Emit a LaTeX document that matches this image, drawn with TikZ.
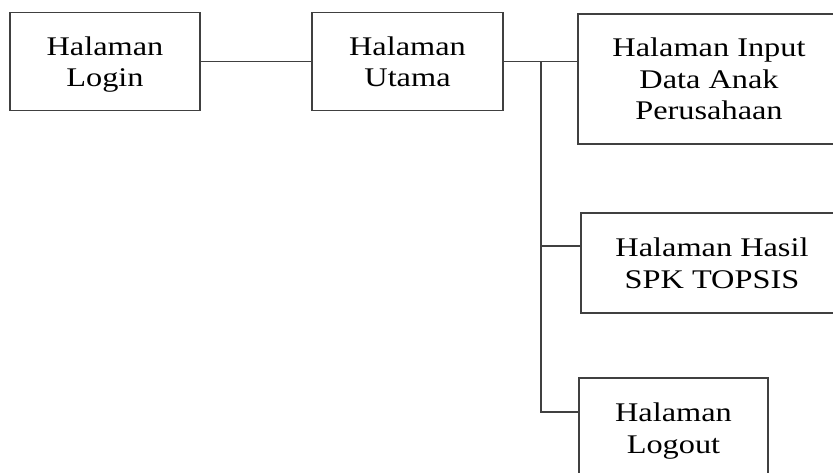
\documentclass[tikz,border=0pt]{standalone}
\usepackage{fontspec}
\setmainfont{Liberation Serif}[FakeStretch=1.2]
\usepackage{tikz}
\usetikzlibrary{calc}

\begin{document}
\begin{tikzpicture}[
        x=0.03cm, y=-0.03cm,
        page/.style={
            rectangle, draw=black!75, line width=1.2pt, fill=white,
            inner sep=0pt, align=center, text depth=-5pt,
            font=\fontsize{23}{27}\selectfont
        },
        link/.style={draw=black!75, line width=1.2pt}
    ]

    \useasboundingbox (0,0) rectangle (833,472);
    \clip (0,0) rectangle (833,472);

    % --- Nodes ---
    \node[page, minimum width=5.7cm, minimum height=2.94cm] (login) at (105,61.5) {Halaman\\Login};
    \node[page, minimum width=5.73cm, minimum height=2.94cm] (utama) at (407.5,61.5) {Halaman\\Utama};
    \node[page, minimum width=7.86cm, minimum height=3.9cm] (input) at (709,79) {Halaman Input\\Data Anak\\Perusahaan};
    \node[page, minimum width=7.86cm, minimum height=3.0cm] (hasil) at (712,263) {Halaman Hasil\\SPK TOPSIS};
    \node[page, minimum width=5.67cm, minimum height=3.0cm] (logout) at (673.5,428) {Halaman\\Logout};

    % --- Joints on the bus ---
    \coordinate (bus) at (541,61.5);
    \coordinate (jhasil) at (541,246);
    \coordinate (jlogout) at (541,412);

    % --- Connections ---
    \draw[link] (login.east) -- (utama.west);
    \draw[link] (utama.east) -- (utama.east -| input.west);
    \draw[link] (bus) -- (jlogout) -- (jlogout -| logout.west);
    \draw[link] (jhasil) -- (jhasil -| hasil.west);

\end{tikzpicture}
\end{document}
